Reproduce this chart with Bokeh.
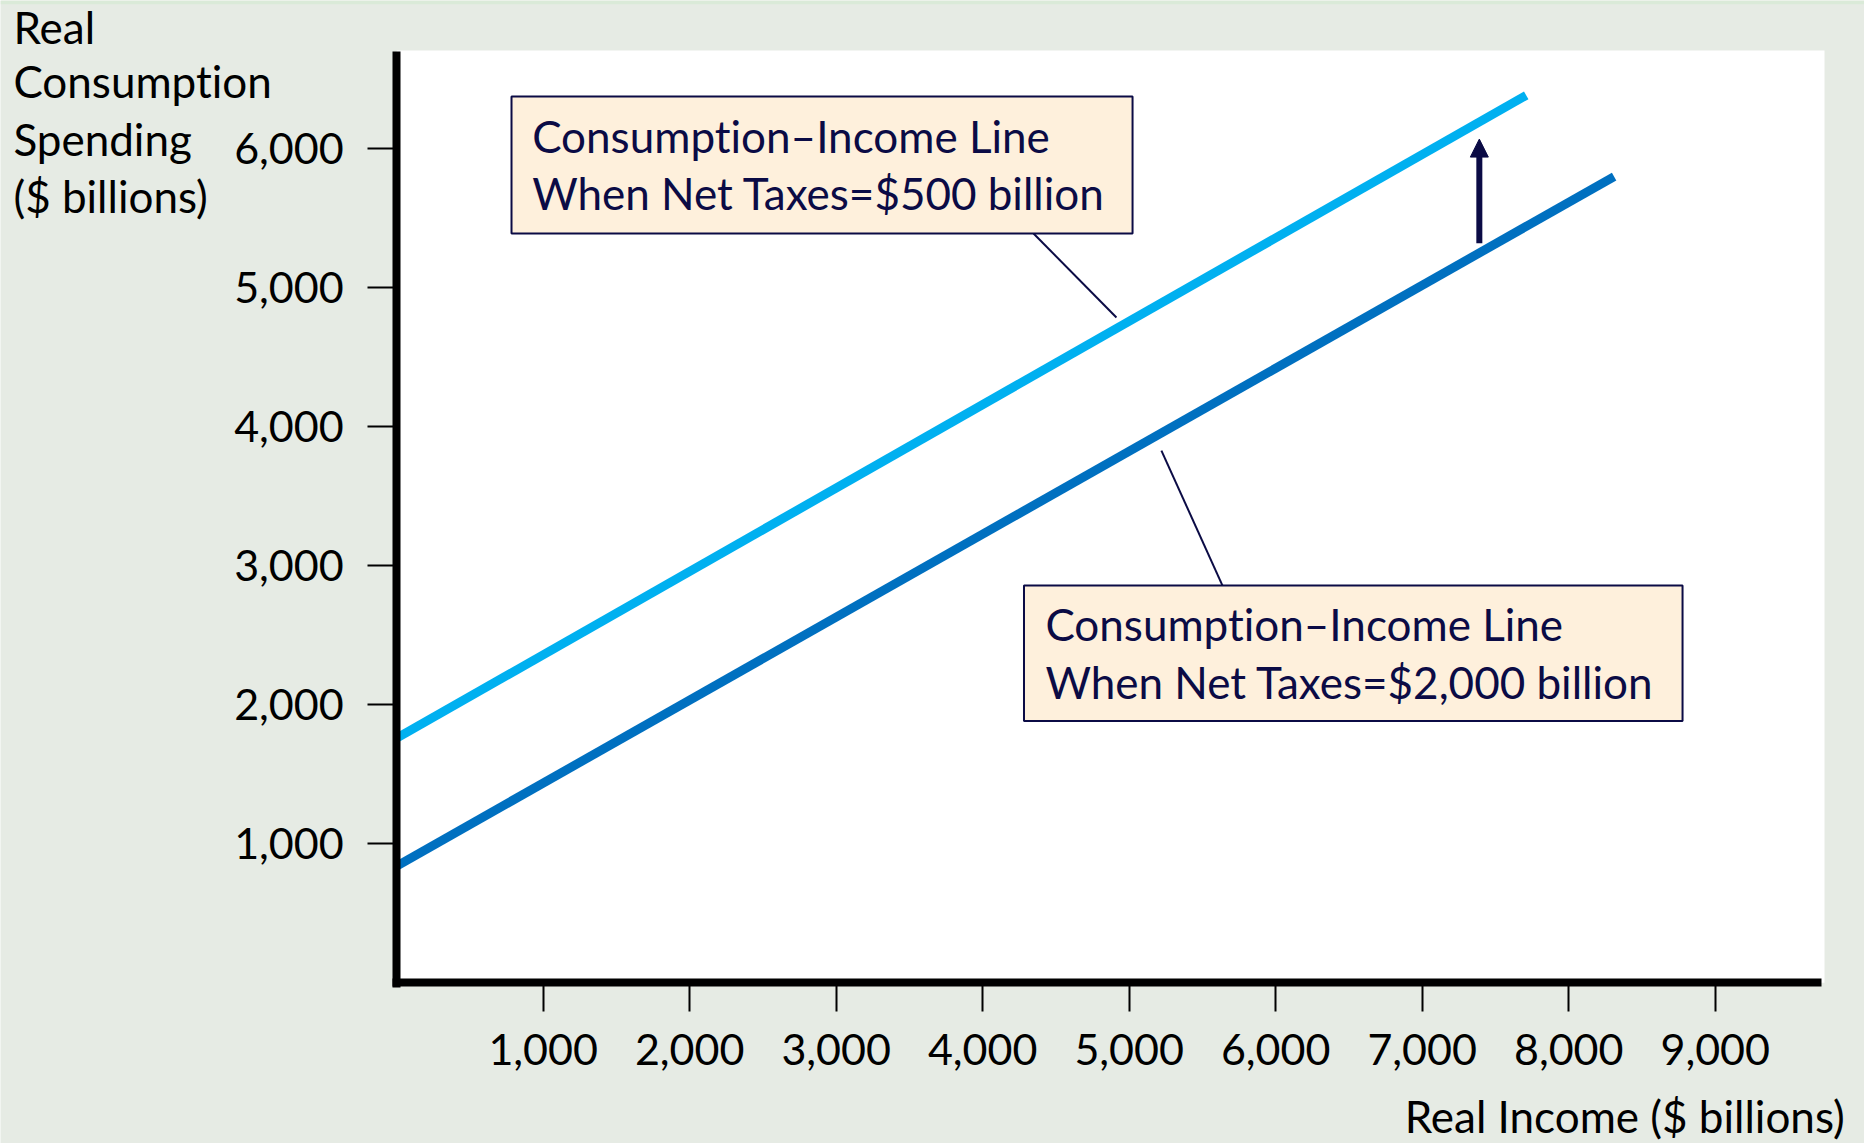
from bokeh.plotting import figure
from bokeh.models import Range1d, FixedTicker, NumeralTickFormatter, Label, Arrow, NormalHead, BoxAnnotation
from bokeh.embed import file_html
from bokeh.resources import INLINE

# ---- data ----
income_ticks = [1000, 2000, 3000, 4000, 5000, 6000, 7000, 8000, 9000]
spending_ticks = [1000, 2000, 3000, 4000, 5000, 6000]

# Consumption-income line when net taxes = $500 billion
low_tax_income = [0, 7710]
low_tax_spending = [1760, 6385]

# Consumption-income line when net taxes = $2,000 billion
high_tax_income = [0, 8310]
high_tax_spending = [840, 5800]

# upward shift arrow
shift_income = 7390
shift_from = 5320
shift_to = 6070

BG = "#E6EBE4"
NAVY = "#0B0B45"
FONT = "Lato"
FS = "44px"
TICK_FS = "43px"

p = figure(width=1864, height=1143, output_backend="svg", toolbar_location=None,
           x_range=Range1d(-2704, 10019), y_range=Range1d(-1156, 7067),
           min_border=0, min_border_left=0, min_border_right=0,
           min_border_top=0, min_border_bottom=0)
p.background_fill_color = BG
p.border_fill_color = BG
p.outline_line_color = None
p.xgrid.visible = False
p.ygrid.visible = False

# thin lighter strip along the top edge
p.add_layout(BoxAnnotation(bottom=7040, fill_color="#DAEAD8", fill_alpha=1, line_color=None, level="underlay"))
# white plotting area
p.add_layout(BoxAnnotation(left=0, right=9746, bottom=0, top=6707, fill_color="white",
                           fill_alpha=1, line_color=None, level="underlay"))

for ax, ticks in ((p.xaxis[0], income_ticks), (p.yaxis[0], spending_ticks)):
    ax.fixed_location = 0
    ax.ticker = FixedTicker(ticks=ticks)
    ax.formatter = NumeralTickFormatter(format="0,0")
    ax.axis_line_width = 8
    ax.axis_line_color = "black"
    ax.major_tick_line_width = 2
    ax.major_tick_line_color = "black"
    ax.major_tick_out = 29
    ax.major_tick_in = 0
    ax.minor_tick_line_color = None
    ax.major_label_text_font = FONT
    ax.major_label_text_font_size = TICK_FS
    ax.major_label_text_color = "black"
p.xaxis[0].bounds = (-29, 9725)
p.yaxis[0].bounds = (-34, 6700)
p.xaxis[0].major_label_standoff = 22
p.yaxis[0].major_label_standoff = 24

p.line(low_tax_income, low_tax_spending, line_color="#00B0F0", line_width=9, line_cap="butt")
p.line(high_tax_income, high_tax_spending, line_color="#0070C0", line_width=9, line_cap="butt")

# leader lines
p.segment(x0=[4347, 5220], y0=[5391, 3829], x1=[4913, 5637], y1=[4786, 2858],
          line_color=NAVY, line_width=2)

# callout boxes
p.add_layout(BoxAnnotation(left=784, right=5023, top=6376, bottom=5391,
                           fill_color="#FEF0DC", fill_alpha=1, line_color=NAVY, line_width=2, line_alpha=1))
p.add_layout(BoxAnnotation(left=4282, right=8777, top=2858, bottom=1883,
                           fill_color="#FEF0DC", fill_alpha=1, line_color=NAVY, line_width=2, line_alpha=1))

def lab(x, y, t, color="black", align="left"):
    p.add_layout(Label(x=x, y=y, text=t, text_font=FONT, text_font_size=FS, text_color=color,
                       text_align=align, text_baseline="alphabetic"))

lab(925, 6095, "Consumption\u2013Income Line", NAVY)
lab(925, 5683, "When Net Taxes=$500 billion", NAVY)
lab(4428, 2578, "Consumption\u2013Income Line", NAVY)
lab(4428, 2165, "When Net Taxes=$2,000 billion", NAVY)

# axis titles
lab(-2616, 6877, "Real")
lab(-2616, 6486, "Consumption")
lab(-2616, 6072, "Spending")
lab(-2616, 5659, "($ billions)")
lab(9884, -961, "Real Income ($ billions)", align="right")

p.add_layout(Arrow(end=NormalHead(size=18, fill_color=NAVY, line_color=NAVY),
                   x_start=shift_income, y_start=shift_from, x_end=shift_income, y_end=shift_to,
                   line_color=NAVY, line_width=6))

html = file_html(p, INLINE)
html = html.replace("</head>", "<style>html,body{font-variant-ligatures:none;font-feature-settings:'liga' 0,'clig' 0;}</style></head>", 1)
open("out.html", "w").write(html)
